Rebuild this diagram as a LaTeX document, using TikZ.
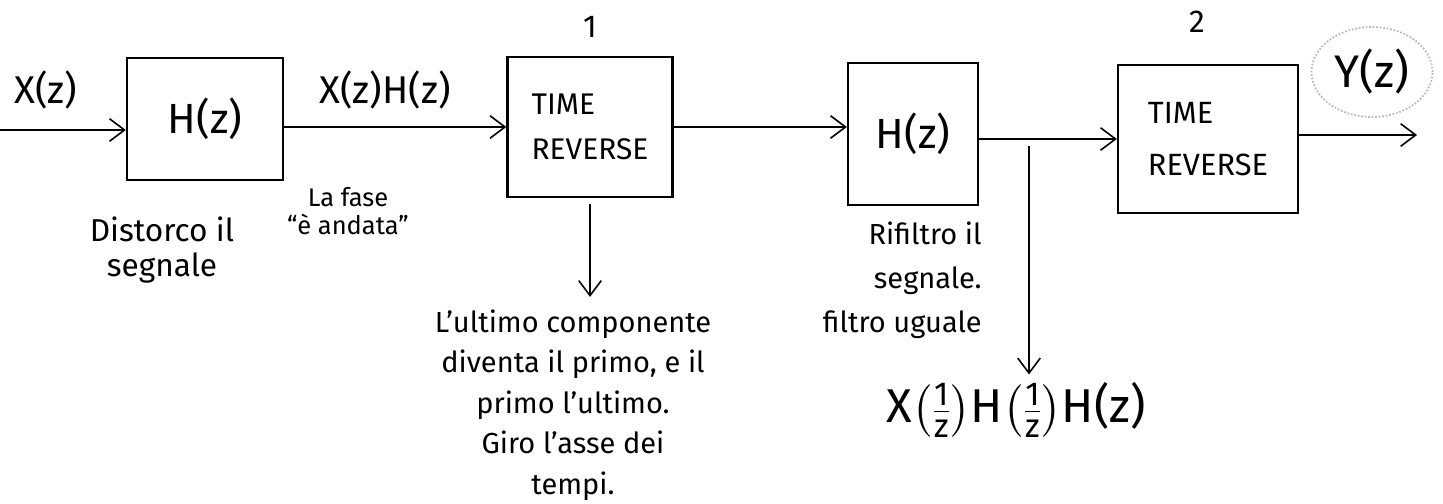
\documentclass[tikz,border=0pt]{standalone}
\usepackage{amsmath}
\usepackage{fontspec}
\setmainfont{Fira Sans}
\usetikzlibrary{arrows.meta,shapes.geometric}

\begin{document}
\begin{tikzpicture}[
	block/.style={draw, line width=1.3pt, inner sep=0pt},
	sig/.style={-{Straight Barb[length=3mm,width=4.5mm]}, line width=0.9pt},
	tag/.style={inner sep=0pt, font=\fontsize{22}{26}\selectfont},
	note/.style={inner sep=0pt, font=\fontsize{16.5}{23}\selectfont},
	halo/.style={ellipse, draw=gray!55, densely dotted, line width=1pt, minimum width=2.42cm, minimum height=1.8cm, inner sep=0pt}
]
	\useasboundingbox (0,0) rectangle (28.86,-10.08);
	% Blocks:
	\node[block, minimum width=3.12cm, minimum height=2.44cm, font=\fontsize{24}{28}\selectfont] (H1) at (4.1,-2.38) {H(z)};
	\node[block, minimum width=3.3cm, minimum height=2.8cm, align=left, font=\fontsize{17}{26}\selectfont] (TR1) at (11.8,-2.54) {TIME\\REVERSE};
	\node[block, minimum width=2.6cm, minimum height=2.84cm, font=\fontsize{24}{28}\selectfont] (H2) at (18.26,-2.68) {H(z)};
	\node[block, minimum width=3.6cm, minimum height=2.96cm, align=left, font=\fontsize{17.5}{30}\selectfont] (TR2) at (24.16,-2.78) {TIME\\REVERSE};
	\node[tag, font=\fontsize{18}{22}\selectfont] (n1) at (11.8,-0.54) {1};
	\node[tag, font=\fontsize{18}{22}\selectfont] (n2) at (23.94,-0.44) {2};
	% Signals:
	\node[tag] (Xin) at (0.92,-1.8) {X(z)};
	\node[tag] (XH) at (7.7,-1.8) {X(z)H(z)};
	\node[halo, font=\fontsize{26}{30}\selectfont] (Yout) at (27.44,-1.44) {Y(z)};
	\node[tag, font=\fontsize{27}{32}\selectfont] (Res) at (20.32,-8.2) {$\text{X}{\left(\frac{\text{1}}{\text{z}}\right)}\text{H}{\left(\frac{\text{1}}{\text{z}}\right)}\text{H(z)}$};
	% Notes:
	\node[note, align=center, font=\fontsize{18}{19.5}\selectfont] (Note0) at (3.24,-5.0) {Distorco il\\segnale};
	\node[note, align=center, font=\fontsize{14.5}{16}\selectfont] (Fase) at (6.96,-4.22) {La fase\\``è andata''};
	\node[note, align=center] (Note1) at (11.46,-8.1) {L'ultimo componente\\diventa il primo, e il\\primo l'ultimo.\\Giro l'asse dei\\tempi.};
	\node[note, align=right, anchor=east, font=\fontsize{16.5}{25}\selectfont] (Note2) at (19.64,-5.6) {Rifiltro il\\segnale.\\filtro uguale};
	% Wires:
	\coordinate (src) at (0,-2.6);
	\coordinate (dst) at (28.34,-2.7);
	\coordinate (tap) at (20.58,-2.78);
	\draw[sig] (src) -- (src -| H1.west);
	\draw[sig] (H1.east |- TR1.west) -- (TR1.west);
	\draw[sig] (TR1.east) -- (TR1.east -| H2.west);
	\draw[sig] (H2.east |- TR2.west) -- (TR2.west);
	\draw[sig] (TR2.east |- dst) -- (dst);
	\draw[sig, shorten <=0.15cm, shorten >=0.15cm] (tap) -- (tap |- Res.north);
	\draw[sig, shorten <=0.12cm, shorten >=0.25cm] (TR1.south) -- (TR1.south |- Note1.north);
\end{tikzpicture}
\end{document}
